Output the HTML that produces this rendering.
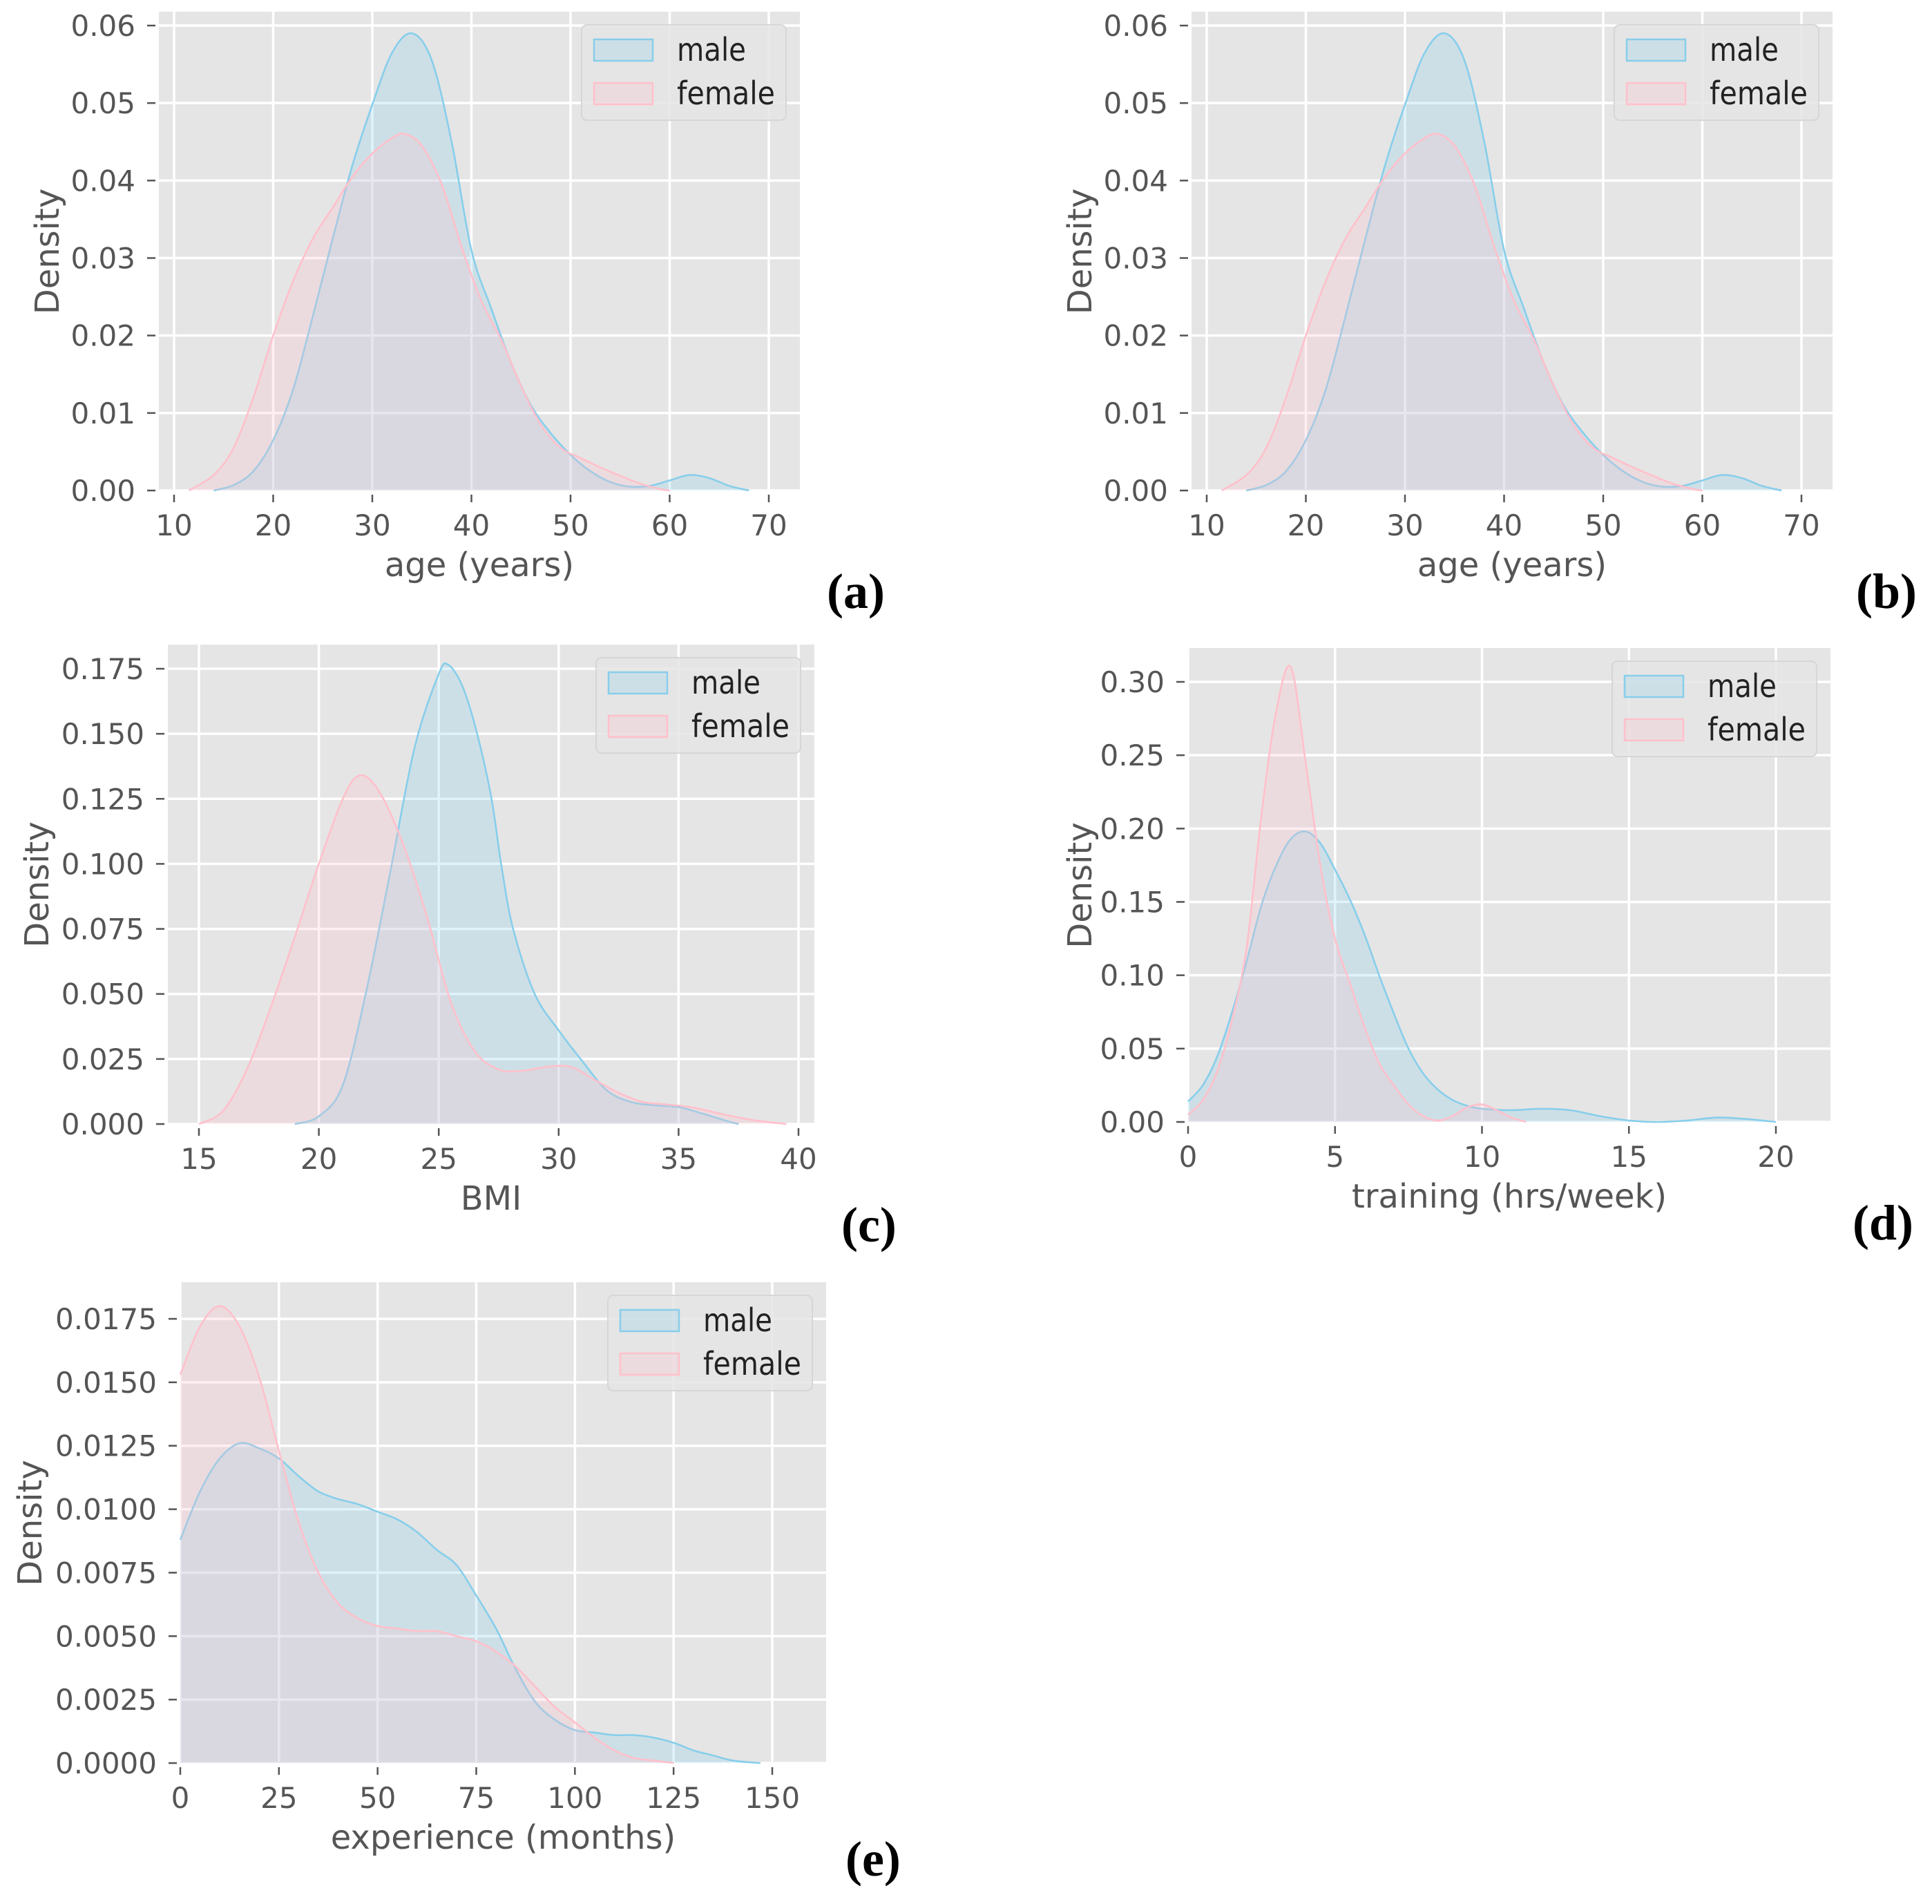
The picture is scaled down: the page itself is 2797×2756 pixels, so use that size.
<!DOCTYPE html>
<html><head><meta charset="utf-8"><title>KDE density plots</title>
<style>
html,body{margin:0;padding:0;background:#fff;}
svg{display:block;}
text{font-family:"DejaVu Sans","Liberation Sans",sans-serif;}
.tick{fill:#555;font-size:42px;}
.axt{fill:#555;font-size:48px;}
.leg{fill:#222;font-size:46px;}
.plab{font-family:"Liberation Serif",serif;font-weight:bold;font-size:72px;fill:#000;}
</style></head>
<body>
<svg id="fig" width="2797" height="2756" viewBox="0 0 2797 2756" xmlns="http://www.w3.org/2000/svg"></svg>
<script>
// ---- Panel (a)/(b): age ----
const ageMaleX = [14,16,18,20,22,24,26,28,30,32,34,36,38,40,42,44,46,48,50,52,54,56,58,60,62,64,66,68];
const ageMaleY = [0,0.0007,0.0025,0.0065,0.013,0.0225,0.0325,0.042,0.0498,0.0565,0.059,0.0555,0.045,0.031,0.0235,0.0165,0.011,0.0074,0.0046,0.0025,0.0011,0.0005,0.0006,0.0013,0.002,0.0016,0.0006,0];
const ageFemaleX = [11.5,14,16,18,20,22,24,26,28,30,32,33.3,35,37,39,41,43,45,47,49,51,53,55,57,59,60];
const ageFemaleY = [0,0.002,0.0055,0.012,0.02,0.027,0.0325,0.0365,0.0405,0.0435,0.0455,0.046,0.0445,0.0395,0.0315,0.0245,0.0195,0.0135,0.0085,0.0055,0.0042,0.003,0.0019,0.0009,0.0002,0];
const ageXTicks = [10,20,30,40,50,60,70];
const ageYTicks = [0,0.01,0.02,0.03,0.04,0.05,0.06];
const ageYLabels = ["0.00","0.01","0.02","0.03","0.04","0.05","0.06"];
// ---- Panel (c): BMI ----
const bmiMaleX = [19,20,21,22,23,24,25,25.4,26,26.6,27.2,27.6,28.1,29,30,31,32,33,34,35,36,37,37.5];
const bmiMaleY = [0,0.003,0.015,0.052,0.098,0.145,0.173,0.1765,0.168,0.15,0.125,0.1,0.075,0.05,0.036,0.024,0.013,0.0085,0.0072,0.0065,0.004,0.0012,0];
const bmiFemaleX = [15,16,17,18,19,20,21,21.7,22.5,23.5,24.5,25.5,26.5,27.5,28.5,29.5,30.5,31.5,32.5,33.5,34.5,35.5,36.5,37.5,38.5,39.5];
const bmiFemaleY = [0,0.005,0.021,0.045,0.072,0.1,0.125,0.134,0.128,0.108,0.08,0.047,0.028,0.021,0.0205,0.022,0.022,0.017,0.012,0.0085,0.0075,0.0065,0.0045,0.0025,0.001,0];
const bmiXTicks = [15,20,25,30,35,40];
const bmiYTicks = [0,0.025,0.05,0.075,0.1,0.125,0.15,0.175];
const bmiYLabels = ["0.000","0.025","0.050","0.075","0.100","0.125","0.150","0.175"];
// ---- Panel (d): training ----
const trMaleX = [0,0.5,1,1.5,2,2.5,3,3.5,4,4.5,5,5.5,6,6.5,7,7.5,8,8.5,9,9.5,10,11,12,13,14,15,16,17,18,19,20];
const trMaleY = [0.014,0.025,0.045,0.075,0.11,0.148,0.175,0.193,0.198,0.19,0.172,0.152,0.128,0.1,0.074,0.05,0.033,0.022,0.015,0.011,0.009,0.008,0.009,0.008,0.004,0.001,0,0.001,0.003,0.002,0];
const trFemaleX = [0,0.5,1,1.5,2,2.5,3,3.5,4,4.5,5,5.5,6,6.5,7,7.5,8,8.5,9,9.5,10,10.5,11,11.5];
const trFemaleY = [0.005,0.015,0.035,0.07,0.12,0.21,0.28,0.31,0.245,0.175,0.125,0.095,0.065,0.04,0.025,0.012,0.004,0.001,0.004,0.01,0.012,0.008,0.003,0];
const trXTicks = [0,5,10,15,20];
const trYTicks = [0,0.05,0.1,0.15,0.2,0.25,0.3];
const trYLabels = ["0.00","0.05","0.10","0.15","0.20","0.25","0.30"];
// ---- Panel (e): experience ----
const exMaleX = [0,5,10,15,20,25,30,35,40,45,50,55,60,65,70,75,80,85,90,95,100,105,110,115,120,125,130,135,140,147];
const exMaleY = [0.0088,0.0107,0.012,0.0126,0.0124,0.012,0.0113,0.0107,0.0104,0.0102,0.0099,0.0096,0.0091,0.0084,0.0078,0.0066,0.0053,0.0037,0.0024,0.0017,0.0013,0.0012,0.0011,0.0011,0.001,0.0008,0.0005,0.0003,0.0001,0];
const exFemaleX = [0,5,10,15,20,25,30,35,40,45,50,55,60,65,70,75,80,85,90,95,100,105,110,115,120,125];
const exFemaleY = [0.0153,0.0172,0.018,0.0172,0.0152,0.0123,0.0095,0.0075,0.0063,0.0057,0.0054,0.0053,0.0052,0.0052,0.005,0.0048,0.0044,0.0038,0.003,0.0022,0.0016,0.001,0.0005,0.0002,0.0001,0];
const exXTicks = [0,25,50,75,100,125,150];
const exYTicks = [0,0.0025,0.005,0.0075,0.01,0.0125,0.015,0.0175];
const exYLabels = ["0.0000","0.0025","0.0050","0.0075","0.0100","0.0125","0.0150","0.0175"];

const NS = "http://www.w3.org/2000/svg";
const svg = document.getElementById('fig');
function mk(tag, attrs, parent){
  const e = document.createElementNS(NS, tag);
  for (const k in attrs) e.setAttribute(k, attrs[k]);
  (parent||svg).appendChild(e);
  return e;
}
function smoothPath(pts){
  let d = "M" + pts[0][0].toFixed(1) + "," + pts[0][1].toFixed(1);
  for (let i=0;i<pts.length-1;i++){
    const p0 = pts[Math.max(0,i-1)], p1 = pts[i], p2 = pts[i+1], p3 = pts[Math.min(pts.length-1,i+2)];
    const c1x = p1[0]+(p2[0]-p0[0])/6, c1y = p1[1]+(p2[1]-p0[1])/6;
    const c2x = p2[0]-(p3[0]-p1[0])/6, c2y = p2[1]-(p3[1]-p1[1])/6;
    d += " C"+c1x.toFixed(1)+","+c1y.toFixed(1)+" "+c2x.toFixed(1)+","+c2y.toFixed(1)+" "+p2[0].toFixed(1)+","+p2[1].toFixed(1);
  }
  return d;
}

const panels = [
  {id:'a', L:230, R:1158, T:17, B:711, x0:10, px0:252, x1:70, px1:1113, y1:0.06, py1:37,
   xt:ageXTicks, xl:ageXTicks.map(String), yt:ageYTicks, yl:ageYLabels,
   mx:ageMaleX, my:ageMaleY, fx:ageFemaleX, fy:ageFemaleY, xlabel:'age (years)', dx:68, lab:[1197,880]},
  {id:'b', L:1725, R:2653, T:17, B:711, x0:10, px0:1747, x1:70, px1:2608, y1:0.06, py1:37,
   xt:ageXTicks, xl:ageXTicks.map(String), yt:ageYTicks, yl:ageYLabels,
   mx:ageMaleX, my:ageMaleY, fx:ageFemaleX, fy:ageFemaleY, xlabel:'age (years)', dx:1563, lab:[2687,880]},
  {id:'c', L:243, R:1179, T:933, B:1628, x0:15, px0:288, x1:40, px1:1156, y1:0.175, py1:968,
   xt:bmiXTicks, xl:bmiXTicks.map(String), yt:bmiYTicks, yl:bmiYLabels,
   mx:bmiMaleX, my:bmiMaleY, fx:bmiFemaleX, fy:bmiFemaleY, xlabel:'BMI', dx:53, lab:[1218,1797]},
  {id:'d', L:1720, R:2650, T:938, B:1625, x0:0, px0:1720, x1:20, px1:2571, y1:0.30, py1:987,
   xt:trXTicks, xl:trXTicks.map(String), yt:trYTicks, yl:trYLabels,
   mx:trMaleX, my:trMaleY, fx:trFemaleX, fy:trFemaleY, xlabel:'training (hrs/week)', dx:1563, lab:[2682,1794]},
  {id:'e', L:261, R:1196, T:1856, B:2553, x0:0, px0:261, x1:150, px1:1118, y1:0.0175, py1:1909,
   xt:exXTicks, xl:exXTicks.map(String), yt:exYTicks, yl:exYLabels,
   mx:exMaleX, my:exMaleY, fx:exFemaleX, fy:exFemaleY, xlabel:'experience (months)', dx:43, lab:[1224,2715]}
];

panels.forEach(p=>{
  const g = mk('g', {});
  
  
  const zeroY = p.B - 1;
  const sx = v => p.px0 + (v - p.x0) * (p.px1 - p.px0) / (p.x1 - p.x0);
  const sy = v => zeroY - v * (zeroY - p.py1) / p.y1;
  const bg = mk('rect', {x:p.L, y:p.T, width:p.R-p.L, height:p.B-p.T, fill:'#e5e5e5'}, g);
  
  
  p.xt.forEach(v=>{
    const ln = mk('line', {x1:sx(v), x2:sx(v), y1:p.T, y2:p.B, stroke:'#fff', 'stroke-width':3.5}, g);
    
    
  });
  p.yt.forEach(v=>{
    const ln = mk('line', {x1:p.L, x2:p.R, y1:sy(v), y2:sy(v), stroke:'#fff', 'stroke-width':3.5}, g);
    
    
  });
  [['male', p.mx, p.my, '#87ceeb', 'rgba(135,206,235,0.25)'], ['female', p.fx, p.fy, '#ffc0cb', 'rgba(255,192,203,0.25)']].forEach(s=>{
    const pts = s[1].map((x,i)=>[sx(x), sy(s[2][i])]);
    const line = smoothPath(pts);
    const area = line + " L"+pts[pts.length-1][0].toFixed(1)+","+zeroY+" L"+pts[0][0].toFixed(1)+","+zeroY+" Z";
    const fa = mk('path', {d:area, fill:s[4], stroke:'none'}, g);
    
    
    const la = mk('path', {d:line, fill:'none', stroke:s[3], 'stroke-width':2.6}, g);
    
    
  });
  p.xt.forEach((v,i)=>{
    const tk = mk('line', {x1:sx(v), x2:sx(v), y1:p.B+5, y2:p.B+16, stroke:'#555', 'stroke-width':2.5}, g);
    
    
    const t = mk('text', {x:sx(v), y:p.B+64, 'text-anchor':'middle', class:'tick'}, g);
    t.textContent = p.xl[i];
    
    
  });
  p.yt.forEach((v,i)=>{
    const tk = mk('line', {x1:p.L-17, x2:p.L-5, y1:sy(v), y2:sy(v), stroke:'#555', 'stroke-width':2.5}, g);
    
    
    const t = mk('text', {x:p.L-34, y:sy(v)+15, 'text-anchor':'end', class:'tick'}, g);
    t.textContent = p.yl[i];
    
    
  });
  const xt = mk('text', {x:(p.L+p.R)/2, y:p.B+123, 'text-anchor':'middle', class:'axt'}, g);
  xt.textContent = p.xlabel;
  
  
  const cy = (p.T+p.B)/2;
  const yt = mk('text', {x:p.dx+17, y:cy, 'text-anchor':'middle', class:'axt', transform:'rotate(-90 '+(p.dx+17)+' '+cy+')'}, g);
  yt.textContent = 'Density';
  
  
  const lw = 296, lh = 138, lx = p.R - 20 - lw, ly = p.T + 19;
  const lg = mk('g', {}, g);
  
  
  mk('rect', {x:lx, y:ly, width:lw, height:lh, rx:8, fill:'#e5e5e5', stroke:'#d6d6d6', 'stroke-width':2, 'fill-opacity':0.85}, lg);
  [['male','rgba(135,206,235,0.25)','#87ceeb',0,100],['female','rgba(255,192,203,0.25)','#ffc0cb',1,142]].forEach(e=>{
    const row = mk('g', {}, lg);
    
    
    mk('rect', {x:lx+18, y:ly+21+e[3]*63, width:85, height:31, fill:e[1], stroke:e[2], 'stroke-width':2.5}, row);
    const t = mk('text', {x:lx+138, y:ly+52+e[3]*63, class:'leg', textLength:e[4], lengthAdjust:'spacingAndGlyphs'}, row);
    t.textContent = e[0];
  });
  const pl = mk('text', {x:p.lab[0], y:p.lab[1], class:'plab'}, g);
  pl.textContent = '('+p.id+')';
  
  
});
</script>
</body></html>
